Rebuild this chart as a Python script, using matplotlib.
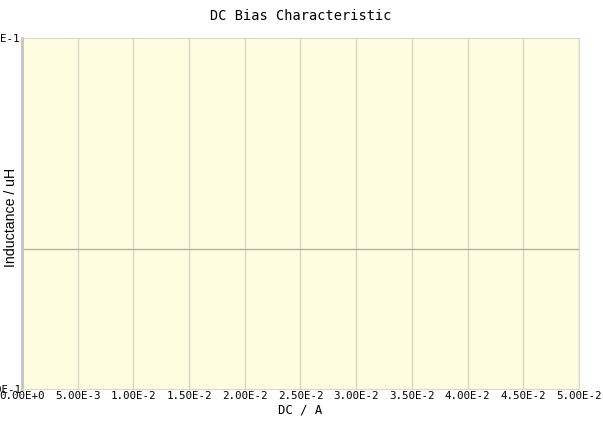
import numpy as np
import matplotlib.pyplot as plt
from matplotlib.ticker import FuncFormatter

# Data
dc_current = [0.0, 0.005, 0.01, 0.015, 0.02, 0.025, 0.03, 0.035, 0.04, 0.045, 0.05]
inductance = [-0.02, -0.02, -0.02, -0.02, -0.02, -0.02, -0.02, -0.02, -0.02, -0.02, -0.02]
y_ticks = [-0.1, 0.1]

plt.rcParams['font.family'] = ['DejaVu Sans Mono']


def sci(v, pos=None):
    # labels like 5.00E-3
    if v == 0:
        return "0.00E+0"
    e = int(np.floor(np.log10(abs(v)) + 1e-9))
    m = v / 10 ** e
    return f"{m:.2f}E+{e}" if e >= 0 else f"{m:.2f}E{e}"


fig = plt.figure(figsize=(6.03, 4.21), dpi=100)
ax = fig.add_axes([0.0365, 0.076, 0.9235, 0.8337])
ax.set_facecolor('#fffde1')

ax.plot(dc_current, inductance, color='#b4b49c', linewidth=1)

ax.set_xlim(0, 0.05)
ax.set_ylim(-0.1, 0.1)
ax.set_xticks(dc_current)
ax.set_yticks(y_ticks)
ax.xaxis.set_major_formatter(FuncFormatter(sci))
ax.yaxis.set_major_formatter(FuncFormatter(sci))
ax.tick_params(length=0, labelsize=7.8)
ax.tick_params(axis='x', pad=1.5)
ax.tick_params(axis='y', pad=1)

ax.grid(True, axis='x', color='#d6d6c6', linewidth=1)
for s in ['top', 'right', 'bottom']:
    ax.spines[s].set_color('#d8d8c8')
ax.spines['left'].set_color('#c4c4c4')
ax.spines['left'].set_linewidth(2)

ax.set_title('DC Bias Characteristic', fontsize=9.8, pad=13)
ax.set_xlabel('DC / A', fontsize=8.8, labelpad=2)
ax.set_ylabel('Inductance / uH', fontsize=10.2,
              family=['Liberation Sans', 'DejaVu Sans'])
ax.yaxis.set_label_coords(-0.008, 0.49)

fig.savefig('out.png', dpi=100)
